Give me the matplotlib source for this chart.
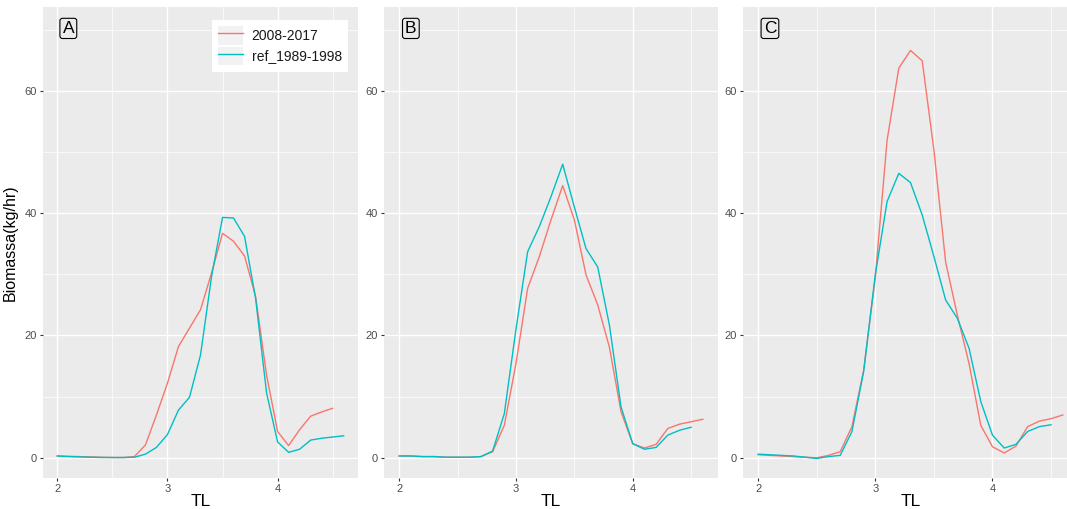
import numpy as np
import matplotlib.pyplot as plt
from matplotlib.patches import Patch
from matplotlib.lines import Line2D
from matplotlib.legend_handler import HandlerTuple

plt.rcParams['font.family'] = ['Liberation Sans', 'DejaVu Sans']

# trophic level grid
tl = [2.0, 2.1, 2.2, 2.3, 2.4, 2.5, 2.6, 2.7, 2.8, 2.9, 3.0, 3.1, 3.2, 3.3,
      3.4, 3.5, 3.6, 3.7, 3.8, 3.9, 4.0, 4.1, 4.2, 4.3, 4.4, 4.5, 4.6]

# panel A
a_recent = [0.3, 0.25, 0.2, 0.15, 0.1, 0.05, 0.05, 0.2, 2.1, 7.0, 12.2, 18.2, 21.2, 24.2,
            30.2, 36.7, 35.4, 33.0, 26.4, 13.5, 4.3, 2.0, 4.6, 6.8, 7.5, 8.1]
a_ref = [0.3, 0.2, 0.15, 0.1, 0.05, 0.05, 0.05, 0.1, 0.6, 1.7, 3.8, 7.8, 9.9, 16.8,
         29.6, 39.3, 39.2, 36.2, 26.1, 10.6, 2.6, 0.9, 1.4, 2.9, 3.2, 3.4, 3.6]

# panel B
b_recent = [0.3, 0.3, 0.2, 0.2, 0.1, 0.1, 0.1, 0.2, 1.0, 5.3, 15.4, 27.7, 32.9, 38.9,
            44.5, 38.9, 29.9, 25.0, 18.1, 7.5, 2.3, 1.6, 2.2, 4.8, 5.5, 5.9, 6.3]
b_ref = [0.3, 0.3, 0.2, 0.2, 0.1, 0.1, 0.1, 0.2, 1.1, 7.2, 21.0, 33.7, 37.8, 42.7,
         48.0, 41.0, 34.2, 31.2, 21.7, 8.3, 2.3, 1.4, 1.7, 3.7, 4.5, 5.0]

# panel C
c_recent = [0.5, 0.4, 0.3, 0.2, 0.1, 0.0, 0.4, 1.0, 5.1, 14.3, 29.6, 51.9, 63.7, 66.6,
            64.9, 50.3, 32.0, 23.3, 15.4, 5.3, 1.8, 0.8, 1.9, 5.1, 6.0, 6.4, 7.0]
c_ref = [0.6, 0.5, 0.4, 0.3, 0.1, -0.1, 0.2, 0.4, 4.3, 14.1, 30.0, 41.9, 46.5, 45.0,
         39.7, 32.9, 25.8, 22.8, 17.9, 9.2, 3.7, 1.6, 2.2, 4.3, 5.1, 5.4]

panels = [("A", a_recent, a_ref), ("B", b_recent, b_ref), ("C", c_recent, c_ref)]
col_recent = "#F8766D"
col_ref = "#00BFC4"

W, H = 1067, 509
fig = plt.figure(figsize=(W / 100, H / 100), dpi=100)

# pixel boxes (left, top, right, bottom)
boxes = [(43, 7, 358, 478), (384, 7, 718, 478), (743, 7, 1078, 478)]

for (name, rec, ref), (l, t, r, b) in zip(panels, boxes):
    ax = fig.add_axes([l / W, 1 - b / H, (r - l) / W, (b - t) / H])
    ax.set_facecolor("#EBEBEB")
    for s in ax.spines.values():
        s.set_visible(False)
    ax.set_xlim(1.87, 4.73)
    ax.set_ylim(-3.3, 73.7)
    ax.set_xticks([2, 3, 4])
    ax.set_xticks([2.5, 3.5, 4.5], minor=True)
    ax.set_yticks([0, 20, 40, 60])
    ax.set_yticks([10, 30, 50, 70], minor=True)
    ax.grid(which="major", color="white", lw=1.0)
    ax.grid(which="minor", color="white", lw=0.5)
    ax.set_axisbelow(True)
    ax.tick_params(which="major", length=2.5, width=0.8, color="#333333",
                   labelsize=8, labelcolor="#4D4D4D", pad=2)
    ax.tick_params(which="minor", length=0)

    ax.plot(tl[:len(rec)], rec, color=col_recent, lw=1.0)
    ax.plot(tl[:len(ref)], ref, color=col_ref, lw=1.0)

    ax.text(2.1, 70.2, name, fontsize=12.5, ha="center", va="center",
            bbox=dict(boxstyle="round,pad=0.15", fc="#EBEBEB", ec="black", lw=0.8))
    ax.set_xlabel("TL", fontsize=12.5, labelpad=0)

    if name == "A":
        ax.set_ylabel("Biomassa(kg/hr)", fontsize=11.5, labelpad=5)
        bg = "#F2F2F2"
        handles = [(Patch(fc=bg, ec="none"), Line2D([], [], color=col_recent, lw=1.0)),
                   (Patch(fc=bg, ec="none"), Line2D([], [], color=col_ref, lw=1.0))]
        leg = ax.legend(handles, ["2008-2017", "ref_1989-1998"],
                        handler_map={tuple: HandlerTuple(ndivide=1)},
                        loc="upper right", bbox_to_anchor=(0.968, 0.972),
                        borderaxespad=0, fontsize=10, frameon=True, fancybox=False,
                        handlelength=1.8, handleheight=1.7, labelspacing=0.1,
                        borderpad=0.45, handletextpad=0.6)
        leg.get_frame().set_facecolor("white")
        leg.get_frame().set_edgecolor("none")
        leg.get_frame().set_alpha(1)
        for txt in leg.get_texts():
            txt.set_color("#1A1A1A")

fig.savefig("out.png", dpi=100)
